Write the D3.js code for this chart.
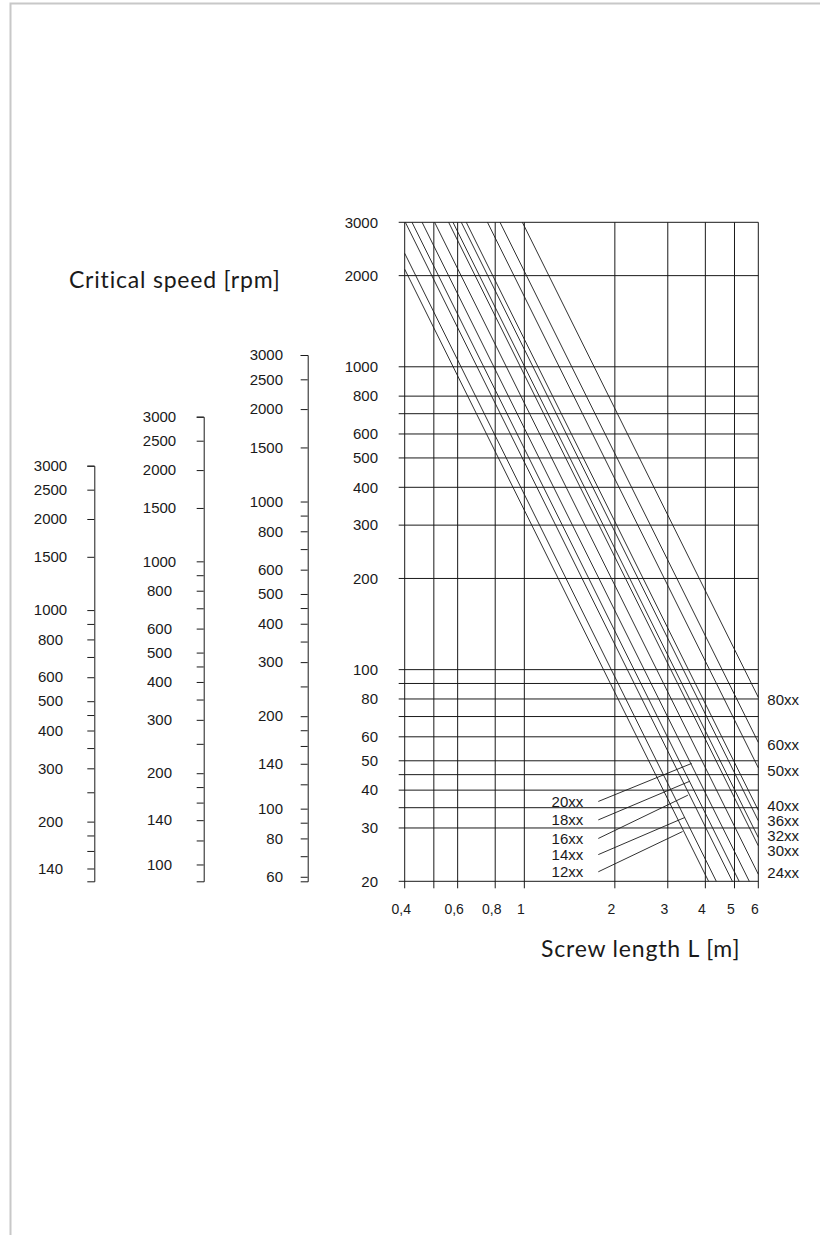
<!DOCTYPE html>
<html>
<head>
<meta charset="utf-8">
<script src="https://cdn.jsdelivr.net/npm/d3@7"></script>
<style>
  body { margin: 0; background: #fff; }
  svg { display: block; }
  .num { font-family: "Liberation Sans", Arial, sans-serif; font-size: 15px; fill: #1a1a1a; }
  .title { font-family: Lato, sans-serif; font-size: 23px; letter-spacing: 0.8px; fill: #1a1a1a; }
</style>
</head>
<body>
<div id="chart"></div>
<script>
// main chart grid + labels
const yGrid = [3000, 2000, 1000, 800, 700, 600, 500, 400, 300, 200, 100, 90, 80, 70, 60, 50, 45, 40, 35, 30, 20];
const yLabels = [3000, 2000, 1000, 800, 600, 500, 400, 300, 200, 100, 80, 60, 50, 40, 30, 20];
const xGrid = [0.4, 0.5, 0.6, 0.8, 1, 2, 3, 4, 5, 6];
const xLabels = [0.4, 0.6, 0.8, 1, 2, 3, 4, 5, 6];

// screw sizes, each line read as start [L, n] and end [L, n]
const sizes = ["12xx", "14xx", "16xx", "18xx", "20xx", "24xx", "30xx", "32xx", "36xx", "40xx", "50xx", "60xx", "80xx"];
const lineStart = [[0.4, 2100], [0.4, 2370], [0.402, 3000], [0.423, 3000], [0.457, 3000], [0.503, 3000],
  [0.56, 3000], [0.579, 3000], [0.617, 3000], [0.641, 3000], [0.754, 3000], [0.83, 3000], [0.985, 3000]];
const lineEnd = [[4.1, 20], [4.35, 20], [4.92, 20], [5.18, 20], [5.6, 20], [6, 21.1],
  [6, 26.2], [6, 27.9], [6, 31.7], [6, 34.3], [6, 47.4], [6, 57.5], [6, 81]];

// labels on the right edge (sizes 24xx..80xx), n where the text sits
const rightSizes = ["80xx", "60xx", "50xx", "40xx", "36xx", "32xx", "30xx", "24xx"];
const rightLabelN = [79.4, 56.4, 46.3, 35.5, 31.7, 28.2, 25.2, 21.3];

// leader labels inside the plot
const leaderSizes = ["20xx", "18xx", "16xx", "14xx", "12xx"];
const leaderFrom = [[1.762, 36.7], [1.762, 31.9], [1.762, 27.7], [1.762, 24.5], [1.762, 21.5]];
const leaderTo = [[3.6, 49], [3.55, 42.8], [3.5, 38.5], [3.42, 32.5], [3.36, 29.2]];

// the three side scales
const side1Ticks = [3000, 2500, 2000, 1500, 1000, 900, 800, 700, 600, 500, 450, 400, 350, 300, 250, 200, 180, 160, 140];
const side1Labels = [3000, 2500, 2000, 1500, 1000, 800, 600, 500, 400, 300, 200, 140];
const side2Ticks = [3000, 2500, 2000, 1500, 1000, 900, 800, 700, 600, 500, 450, 400, 350, 300, 250, 200, 180, 160, 140, 120, 100];
const side2Labels = [3000, 2500, 2000, 1500, 1000, 800, 600, 500, 400, 300, 200, 140, 100];
const side3Ticks = [3000, 2500, 2000, 1500, 1000, 900, 800, 700, 600, 500, 450, 400, 350, 300, 250, 200, 180, 160, 140, 120, 100, 90, 80, 70, 60];
const side3Labels = [3000, 2500, 2000, 1500, 1000, 800, 600, 500, 400, 300, 200, 140, 100, 80, 60];
const sideBottom = [127, 88, 58];

const width = 820;
const height = 1235;
const ink = "#1a1a1a";

const svg = d3.select("#chart")
  .append("svg")
  .attr("width", width)
  .attr("height", height);

// page frame
svg.append("path")
  .attr("d", `M10.5,${height}V3.5H${width}`)
  .attr("fill", "none")
  .attr("stroke", "#c8c8c8")
  .attr("stroke-width", 2);

const x = d3.scaleLog().domain([0.4, 6]).range([404.7, 758.3]);
const y = d3.scaleLog().domain([3000, 20]).range([222.3, 881.3]);

const plot = svg.append("g");

plot.selectAll(".hgrid")
  .data(yGrid)
  .enter()
  .append("line")
  .attr("class", "hgrid")
  .attr("x1", x(0.4) - 6)
  .attr("x2", x(6))
  .attr("y1", d => y(d))
  .attr("y2", d => y(d))
  .attr("stroke", ink)
  .attr("stroke-width", 1);

plot.selectAll(".vgrid")
  .data(xGrid)
  .enter()
  .append("line")
  .attr("class", "vgrid")
  .attr("x1", d => x(d))
  .attr("x2", d => x(d))
  .attr("y1", y(3000))
  .attr("y2", y(20) + 7)
  .attr("stroke", ink)
  .attr("stroke-width", 1);

plot.selectAll(".ylab")
  .data(yLabels)
  .enter()
  .append("text")
  .attr("class", "num")
  .attr("x", 378)
  .attr("y", d => y(d))
  .attr("dy", "0.35em")
  .attr("text-anchor", "end")
  .text(d => d);

plot.selectAll(".xlab")
  .data(xLabels)
  .enter()
  .append("text")
  .attr("class", "num")
  .attr("x", d => x(d) - 3.5)
  .attr("y", y(20) + 33)
  .attr("text-anchor", "middle")
  .style("font-size", "14px")
  .text(d => String(d).replace(".", ","));

// speed lines
plot.selectAll(".speed")
  .data(sizes)
  .enter()
  .append("line")
  .attr("class", "speed")
  .attr("x1", (d, i) => x(lineStart[i][0]))
  .attr("y1", (d, i) => y(lineStart[i][1]))
  .attr("x2", (d, i) => x(lineEnd[i][0]))
  .attr("y2", (d, i) => y(lineEnd[i][1]))
  .attr("stroke", ink)
  .attr("stroke-width", 0.9);

plot.selectAll(".rlab")
  .data(rightSizes)
  .enter()
  .append("text")
  .attr("class", "num")
  .attr("x", x(6) + 9)
  .attr("y", (d, i) => y(rightLabelN[i]))
  .attr("dy", "0.35em")
  .text(d => d);

plot.selectAll(".leader")
  .data(leaderSizes)
  .enter()
  .append("line")
  .attr("class", "leader")
  .attr("x1", (d, i) => x(leaderFrom[i][0]))
  .attr("y1", (d, i) => y(leaderFrom[i][1]))
  .attr("x2", (d, i) => x(leaderTo[i][0]))
  .attr("y2", (d, i) => y(leaderTo[i][1]))
  .attr("stroke", ink)
  .attr("stroke-width", 0.9);

plot.selectAll(".llab")
  .data(leaderSizes)
  .enter()
  .append("text")
  .attr("class", "num")
  .attr("x", (d, i) => x(leaderFrom[i][0]) - 15)
  .attr("y", (d, i) => y(leaderFrom[i][1]))
  .attr("dy", "0.35em")
  .attr("text-anchor", "end")
  .text(d => d);

// side scales
const sides = [
  { ticks: side1Ticks, labels: side1Labels, bottom: sideBottom[0], top: 465.7, axisX: 94.3, labelX: 50.5, anchor: "middle" },
  { ticks: side2Ticks, labels: side2Labels, bottom: sideBottom[1], top: 416.7, axisX: 203.7, labelX: 159.5, anchor: "middle" },
  { ticks: side3Ticks, labels: side3Labels, bottom: sideBottom[2], top: 355, axisX: 307.7, labelX: 283, anchor: "end" }
];

sides.forEach(s => {
  const sy = d3.scaleLog().domain([3000, s.bottom]).range([s.top, y(20)]);
  const g = svg.append("g").attr("transform", `translate(${s.axisX},0)`);
  g.call(d3.axisLeft(sy).tickValues(s.ticks).tickSize(7).tickSizeOuter(7).tickFormat(""));
  g.selectAll("path, line").attr("stroke", ink).attr("stroke-width", 1);

  svg.append("g").selectAll("text")
    .data(s.labels)
    .enter()
    .append("text")
    .attr("class", "num")
    .attr("x", s.labelX)
    .attr("y", d => sy(d))
    .attr("dy", "0.35em")
    .attr("text-anchor", s.anchor)
    .text(d => d);
});

svg.append("text")
  .attr("class", "title")
  .attr("x", 69)
  .attr("y", 288)
  .text("Critical speed [rpm]");

svg.append("text")
  .attr("class", "title")
  .attr("x", 541)
  .attr("y", 957)
  .text("Screw length L [m]");
</script>
</body>
</html>
